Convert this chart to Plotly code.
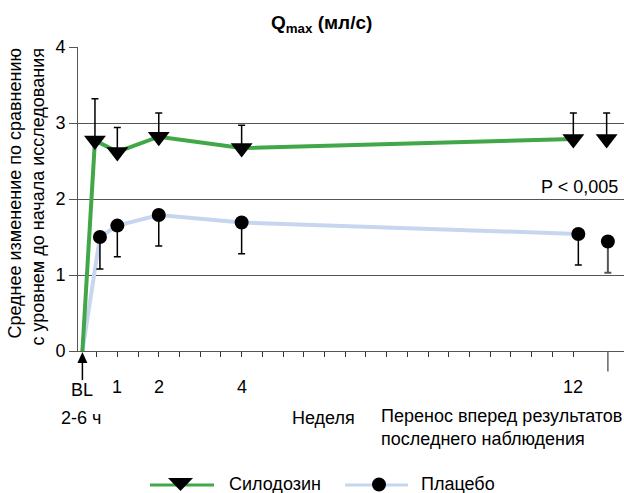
import plotly.graph_objects as go

# ---------------- data ----------------
baseline_x = 0.157          # "BL" position on the week axis
baseline_y = 0.0

# silodosin: 2-6 h, week 1, 2, 4, 12, LOCF
sil_x = [0.46, 1, 2, 4, 12.006, 12.81]
sil_mean = [2.77, 2.62, 2.82, 2.67, 2.79, 2.79]
sil_upper = [3.32, 2.94, 3.13, 2.97, 3.13, 3.13]

# placebo: 2-6 h, week 1, 2, 4, 12, LOCF
pla_x = [0.58, 1, 2, 4, 12.127, 12.84]
pla_mean = [1.50, 1.65, 1.79, 1.69, 1.54, 1.44]
pla_lower = [1.08, 1.24, 1.38, 1.28, 1.13, 1.03]

week_ticks = [i * 0.5 for i in range(1, 25)]
week_labels = ["1", "2", "4", "12"]
week_label_pos = [1, 2, 4, 12]
locf_tick = 12.84

GREEN = "#41a748"
BLUE = "#c7d6ef"
FONT = "Liberation Sans, Arial, sans-serif"
FS = 18

# --------------- geometry helpers (figure pixels -> paper) ---------------
W_FIG, H_FIG = 624, 493
L, R, T, B = 78, 0, 47, 142
PW, PH = W_FIG - L - R, H_FIG - T - B
XMIN, XMAX = 0.0507, 13.229


def PX(px):
    return (px - L) / PW


def PY(py):
    return (T + PH - py) / PH


def XP(xv):
    return (xv - XMIN) / (XMAX - XMIN)


fig = go.Figure()

# lines (BL + visits up to week 12, LOCF not connected)
fig.add_trace(go.Scatter(
    x=[baseline_x] + pla_x[:5], y=[baseline_y] + pla_mean[:5],
    mode="lines", line=dict(color=BLUE, width=4), showlegend=False, hoverinfo="skip"))
fig.add_trace(go.Scatter(
    x=[baseline_x] + sil_x[:5], y=[baseline_y] + sil_mean[:5],
    mode="lines", line=dict(color=GREEN, width=4), showlegend=False, hoverinfo="skip"))

# silodosin markers with upper error bars
fig.add_trace(go.Scatter(
    x=sil_x, y=sil_mean, mode="markers",
    marker=dict(symbol="triangle-down", size=19, color="black"),
    error_y=dict(type="data", symmetric=False,
                 array=[u - m for u, m in zip(sil_upper, sil_mean)],
                 arrayminus=[0] * len(sil_mean),
                 color="black", thickness=1.5, width=3.5),
    name="Силодозин", showlegend=False))

# placebo markers with lower error bars (visits)
fig.add_trace(go.Scatter(
    x=pla_x[:5], y=pla_mean[:5], mode="markers",
    marker=dict(symbol="circle", size=14, color="black"),
    error_y=dict(type="data", symmetric=False,
                 array=[0] * 5,
                 arrayminus=[m - lo for m, lo in zip(pla_mean[:5], pla_lower[:5])],
                 color="black", thickness=1.5, width=3.5),
    name="Плацебо", showlegend=False))
# placebo LOCF
fig.add_trace(go.Scatter(
    x=pla_x[5:], y=pla_mean[5:], mode="markers",
    marker=dict(symbol="circle", size=14, color="black"),
    error_y=dict(type="data", symmetric=False,
                 array=[0],
                 arrayminus=[pla_mean[5] - pla_lower[5]],
                 color="#555555", thickness=2, width=3.5),
    showlegend=False))

annotations = []
shapes = []

# title
annotations.append(dict(xref="paper", yref="paper", x=PX(321.5), y=PY(24),
                        xanchor="center", yanchor="middle", showarrow=False,
                        text="<b>Q<sub>max</sub> (мл/с)</b>",
                        font=dict(family=FONT, size=19, color="black")))
# y title
annotations.append(dict(xref="paper", yref="paper", x=PX(26), y=PY(47),
                        xanchor="center", yanchor="top", showarrow=False,
                        textangle=-90, align="right",
                        text="Среднее изменение по сравнению<br>с уровнем до начала исследования",
                        font=dict(family=FONT, size=FS, color="black")))
# x labels
annotations.append(dict(xref="x", yref="paper", x=baseline_x, y=PY(390),
                        xanchor="center", yanchor="middle", showarrow=False,
                        text="BL", font=dict(family=FONT, size=FS, color="black")))
for pos, lab in zip(week_label_pos, week_labels):
    annotations.append(dict(xref="x", yref="paper", x=pos, y=PY(387),
                            xanchor="center", yanchor="middle", showarrow=False,
                            text=lab, font=dict(family=FONT, size=FS, color="black")))
annotations.append(dict(xref="paper", yref="paper", x=PX(81), y=PY(418),
                        xanchor="center", yanchor="middle", showarrow=False,
                        text="2-6 ч", font=dict(family=FONT, size=FS, color="black")))
annotations.append(dict(xref="paper", yref="paper", x=PX(323), y=PY(418),
                        xanchor="center", yanchor="middle", showarrow=False,
                        text="Неделя", font=dict(family=FONT, size=FS, color="black")))
annotations.append(dict(xref="paper", yref="paper", x=PX(379), y=PY(427.5),
                        xanchor="left", yanchor="middle", showarrow=False, align="left",
                        text="Перенос вперед результатов<br>последнего наблюдения",
                        font=dict(family=FONT, size=FS, color="black")))
# P value
annotations.append(dict(xref="paper", yref="paper", x=PX(620), y=PY(187),
                        xanchor="right", yanchor="middle", showarrow=False,
                        text="P < 0,005", font=dict(family=FONT, size=FS, color="black")))

# BL arrow (shaft + head)
bx = XP(baseline_x)
shapes.append(dict(type="line", xref="paper", yref="paper",
                   x0=bx, x1=bx, y0=PY(360), y1=PY(380),
                   line=dict(color="black", width=1.5)))
shapes.append(dict(type="path", xref="paper", yref="paper",
                   path=f"M{bx - 5 / PW},{PY(363)} L{bx + 5 / PW},{PY(363)} L{bx},{PY(352)} Z",
                   fillcolor="black", line=dict(color="black", width=0)))
# LOCF long tick
shapes.append(dict(type="line", xref="paper", yref="paper",
                   x0=XP(locf_tick), x1=XP(locf_tick), y0=0, y1=PY(371.6),
                   line=dict(color="#666666", width=1.5)))

# manual legend
shapes.append(dict(type="line", xref="paper", yref="paper",
                   x0=PX(150), x1=PX(214), y0=PY(485), y1=PY(485),
                   line=dict(color=GREEN, width=3)))
shapes.append(dict(type="path", xref="paper", yref="paper",
                   path=f"M{PX(168)},{PY(478)} L{PX(193)},{PY(478)} L{PX(180.5)},{PY(491)} Z",
                   fillcolor="black", line=dict(color="black", width=0)))
annotations.append(dict(xref="paper", yref="paper", x=PX(227), y=PY(484),
                        xanchor="left", yanchor="middle", showarrow=False,
                        text="Силодозин", font=dict(family=FONT, size=FS, color="black")))
shapes.append(dict(type="line", xref="paper", yref="paper",
                   x0=PX(345), x1=PX(408), y0=PY(485), y1=PY(485),
                   line=dict(color=BLUE, width=3)))
shapes.append(dict(type="circle", xref="paper", yref="paper",
                   x0=PX(372), x1=PX(386), y0=PY(491.5), y1=PY(477.5),
                   fillcolor="black", line=dict(color="black", width=0)))
annotations.append(dict(xref="paper", yref="paper", x=PX(419), y=PY(484),
                        xanchor="left", yanchor="middle", showarrow=False,
                        text="Плацебо", font=dict(family=FONT, size=FS, color="black")))

fig.update_layout(
    width=W_FIG, height=H_FIG,
    margin=dict(l=L, r=R, t=T, b=B, pad=0),
    paper_bgcolor="white", plot_bgcolor="white",
    showlegend=False,
    font=dict(family=FONT, size=FS, color="black"),
    annotations=annotations, shapes=shapes,
    xaxis=dict(range=[XMIN, XMAX], tickmode="array", tickvals=week_ticks,
               showticklabels=False, ticks="outside", ticklen=5, tickwidth=1,
               tickcolor="#333333", showgrid=False, zeroline=False,
               showline=True, linecolor="#555555", linewidth=1),
    yaxis=dict(range=[0, 4], tickmode="array", tickvals=[0, 1, 2, 3, 4],
               ticks="outside", ticklen=8, tickwidth=1, tickcolor="#555555",
               showgrid=True, gridcolor="#555555", gridwidth=1,
               zeroline=False, showline=True, linecolor="#555555", linewidth=1,
               tickfont=dict(family=FONT, size=FS, color="black")),
)

fig.write_html("out.html", config={"displayModeBar": False},
               post_script="document.body.style.margin='0';document.body.style.padding='0';")
